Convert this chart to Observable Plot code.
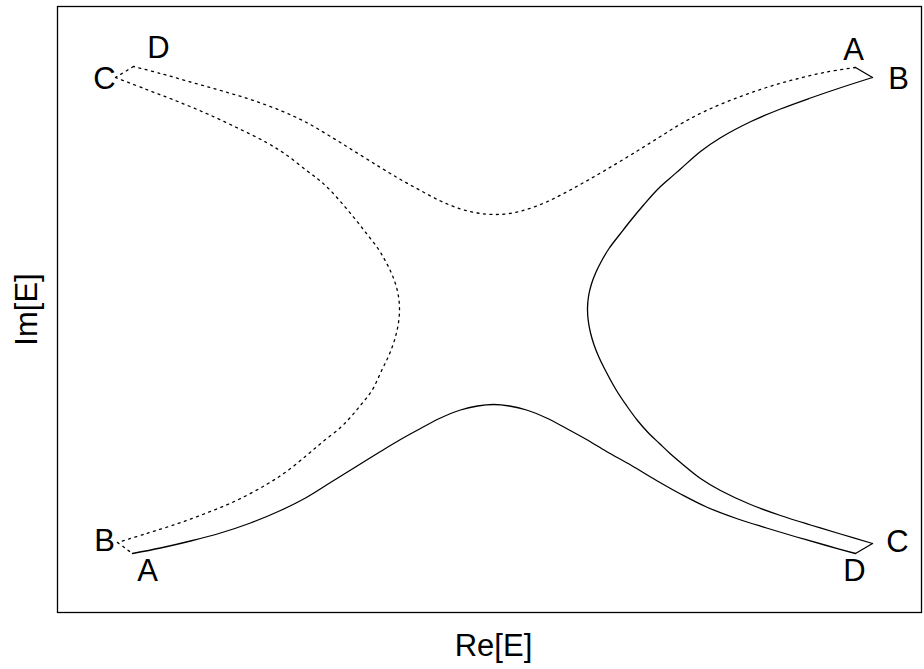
<!DOCTYPE html>
<html>
<head>
<meta charset="utf-8">
<script src="https://cdn.jsdelivr.net/npm/d3@7"></script>
<script src="https://cdn.jsdelivr.net/npm/@observablehq/plot@0.6"></script>
<style>
  body { margin: 0; background: #fff; }
</style>
</head>
<body>
<div id="chart"></div>
<script>
// Eigenvalue trajectories in the complex plane, [Re, Im] pairs.
// Solid eigenvalue: A (lower left) -> D (lower right), then C -> B along the right branch.
const lowerSolid = [
  [-0.9025, -0.976], [-0.8325, -0.954], [-0.7575, -0.926], [-0.6825, -0.894],
  [-0.6075, -0.854], [-0.5325, -0.804], [-0.47, -0.754], [-0.4075, -0.692],
  [-0.345, -0.630], [-0.2825, -0.568], [-0.2325, -0.520], [-0.1825, -0.476],
  [-0.1325, -0.434], [-0.0825, -0.402], [-0.04, -0.386], [0.0, -0.380],
  [0.04, -0.386], [0.0825, -0.402], [0.1325, -0.434], [0.1825, -0.476],
  [0.2325, -0.520], [0.2825, -0.568], [0.345, -0.624], [0.4075, -0.684],
  [0.47, -0.740], [0.5325, -0.790], [0.6075, -0.836], [0.6825, -0.874],
  [0.7575, -0.910], [0.8325, -0.944], [0.905, -0.976]
];
const rightSolid = [
  [0.9475, -0.936], [0.8675, -0.898], [0.7925, -0.862], [0.7175, -0.824],
  [0.6425, -0.780], [0.5675, -0.724], [0.5175, -0.676], [0.4675, -0.612],
  [0.4413, -0.576], [0.415, -0.536], [0.3863, -0.492], [0.36, -0.444],
  [0.3333, -0.386], [0.3075, -0.324], [0.2773, -0.236], [0.2628, -0.188],
  [0.251, -0.140], [0.2423, -0.092], [0.2368, -0.044], [0.235, 0.004],
  [0.2375, 0.052], [0.2445, 0.100], [0.2558, 0.148], [0.2708, 0.196],
  [0.2888, 0.244], [0.3175, 0.304], [0.345, 0.360], [0.3763, 0.420],
  [0.41, 0.480], [0.4375, 0.520], [0.4675, 0.562], [0.5175, 0.632],
  [0.5675, 0.687], [0.6425, 0.751], [0.7175, 0.802], [0.7925, 0.846],
  [0.8675, 0.887], [0.9475, 0.928]
];
// Dotted eigenvalue: A (upper right) -> D (upper left), then C -> B along the left branch.
const upperDotted = [
  [0.905, 0.968], [0.8325, 0.950], [0.7575, 0.922], [0.6825, 0.888],
  [0.6075, 0.846], [0.5325, 0.796], [0.47, 0.744], [0.4075, 0.682],
  [0.345, 0.620], [0.2825, 0.560], [0.2325, 0.514], [0.1825, 0.470],
  [0.1325, 0.430], [0.0825, 0.400], [0.04, 0.384], [0.0, 0.380],
  [-0.04, 0.386], [-0.0825, 0.402], [-0.1325, 0.434], [-0.1825, 0.476],
  [-0.2325, 0.520], [-0.2825, 0.568], [-0.345, 0.630], [-0.4075, 0.692],
  [-0.47, 0.750], [-0.5325, 0.796], [-0.6075, 0.840], [-0.6825, 0.876],
  [-0.7575, 0.910], [-0.8325, 0.944], [-0.90, 0.972]
];
const leftDotted = [
  [-0.945, 0.928], [-0.8675, 0.880], [-0.7925, 0.834], [-0.7175, 0.784],
  [-0.6425, 0.728], [-0.5675, 0.668], [-0.5175, 0.618], [-0.4675, 0.556],
  [-0.4375, 0.520], [-0.41, 0.480], [-0.3763, 0.420], [-0.345, 0.360],
  [-0.3175, 0.304], [-0.2888, 0.244], [-0.2708, 0.196], [-0.2558, 0.148],
  [-0.2445, 0.100], [-0.2375, 0.052], [-0.235, 0.004], [-0.2368, -0.044],
  [-0.2423, -0.092], [-0.251, -0.140], [-0.2628, -0.188], [-0.2773, -0.236],
  [-0.3038, -0.324], [-0.3288, -0.376], [-0.3538, -0.424], [-0.3825, -0.472],
  [-0.4275, -0.530], [-0.4675, -0.584], [-0.5175, -0.648], [-0.5675, -0.700],
  [-0.6425, -0.764], [-0.7175, -0.814], [-0.7925, -0.858], [-0.8675, -0.896],
  [-0.94, -0.932]
];

const first = a => a[0];
const last = a => a[a.length - 1];

// Path pieces; the short joins between branches are straight segments.
const solidPieces = [
  lowerSolid,
  [last(lowerSolid), first(rightSolid)],
  rightSolid,
  [last(rightSolid), first(upperDotted)]
];
const dottedPieces = [
  upperDotted,
  [last(upperDotted), first(leftDotted)],
  leftDotted,
  [last(leftDotted), first(lowerSolid)]
];
const toRows = pieces => pieces.flatMap((pts, i) =>
  pts.map(([re, im]) => ({re, im, piece: i})));

const font = "'Liberation Sans', Arial, Helvetica, sans-serif";
const labelSize = 31;

// Corner labels: [name, point, dx, dy]
const corners = [
  ["A", first(lowerSolid), 15, 18],
  ["D", last(lowerSolid), -1, 18],
  ["C", first(rightSolid), 25, -1],
  ["B", last(rightSolid), 26, 2],
  ["A", first(upperDotted), -2, -17],
  ["D", last(upperDotted), 25, -18],
  ["C", first(leftDotted), -11, 2],
  ["B", last(leftDotted), -13, -1]
];

const cornerMarks = corners.map(([name, p, dx, dy]) =>
  Plot.text([p], {
    x: d => d[0], y: d => d[1], text: () => name,
    dx, dy, fontSize: labelSize, fill: "black",
    textAnchor: "middle", lineAnchor: "middle"
  })
);

const chart = Plot.plot({
  width: 924,
  height: 669,
  marginLeft: 57,
  marginTop: 6,
  marginRight: 3,
  marginBottom: 57,
  x: {domain: [-1.09, 1.07], axis: null},
  y: {domain: [-1.212, 1.212], axis: null},
  style: {fontFamily: font, background: "#fff"},
  marks: [
    Plot.line(toRows(solidPieces), {
      x: "re", y: "im", z: "piece", curve: "catmull-rom",
      stroke: "black", strokeWidth: 1.3
    }),
    Plot.line(toRows(dottedPieces), {
      x: "re", y: "im", z: "piece", curve: "catmull-rom",
      stroke: "black", strokeWidth: 1.3, strokeDasharray: "2,4.5"
    }),
    ...cornerMarks,
    Plot.frame({stroke: "black", strokeWidth: 1.3}),
    Plot.text(["Re[E]"], {
      frameAnchor: "bottom", lineAnchor: "middle", textAnchor: "middle",
      dx: 4, dy: 34, fontSize: labelSize, fill: "black"
    }),
    Plot.text(["Im[E]"], {
      frameAnchor: "left", lineAnchor: "middle", textAnchor: "middle",
      dx: -30, rotate: -90, fontSize: labelSize, fill: "black"
    })
  ]
});

document.getElementById("chart").appendChild(chart);
</script>
</body>
</html>
